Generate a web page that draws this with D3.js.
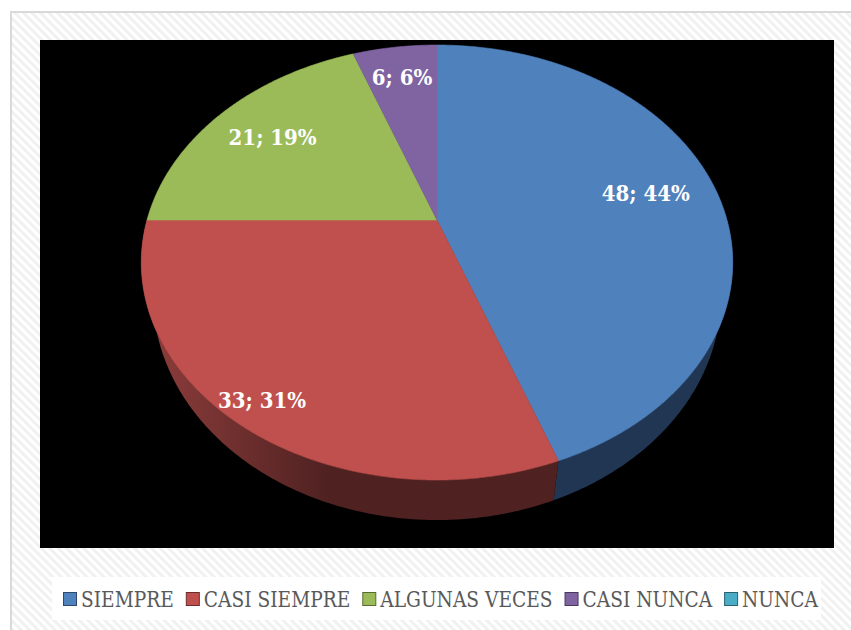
<!DOCTYPE html>
<html>
<head>
<meta charset="utf-8">
<script src="https://cdn.jsdelivr.net/npm/d3@7"></script>
<style>
  html, body { margin: 0; padding: 0; background: #ffffff; }
  svg { display: block; }
</style>
</head>
<body>
<div id="chart"></div>
<script>
// Survey answers
const categories = ["SIEMPRE", "CASI SIEMPRE", "ALGUNAS VECES", "CASI NUNCA", "NUNCA"];
const values = [48, 33, 21, 6, 0];
const topColors = ["#4f81bd", "#c0504d", "#9bbb59", "#8064a2", "#4bacc6"];
const sideColors = ["#203652", "url(#redWall)", "#3f4c24", "#342942", "#1f4651"];

const W = 851, H = 630;
const svg = d3.select("#chart").append("svg").attr("width", W).attr("height", H);
const defs = svg.append("defs");

// light diagonal texture of the chart area
const pat = defs.append("pattern")
  .attr("id", "stripes").attr("patternUnits", "userSpaceOnUse")
  .attr("width", 6).attr("height", 6)
  .attr("patternTransform", "rotate(-45)");
pat.append("rect").attr("width", 6).attr("height", 6).attr("fill", "#ffffff");
pat.append("rect").attr("width", 3).attr("height", 6).attr("fill", "#f1f1f1");

const rg = defs.append("linearGradient").attr("id", "redWall")
  .attr("gradientUnits", "userSpaceOnUse")
  .attr("x1", 150).attr("y1", 0).attr("x2", 330).attr("y2", 0);
rg.append("stop").attr("offset", 0).attr("stop-color", "#8c3d3b");
rg.append("stop").attr("offset", 1).attr("stop-color", "#4f2121");

// outer frame
svg.append("rect").attr("x", 11).attr("y", 12).attr("width", 900).attr("height", 700)
  .attr("fill", "url(#stripes)").attr("stroke", "#d9d9d9").attr("stroke-width", 2);

// plot area
svg.append("rect").attr("x", 40).attr("y", 40).attr("width", 794).attr("height", 508)
  .attr("fill", "#000000");

// perspective projection of the tilted disc
const cx = 437, cy = 220, A = 290, B = 209.2, k = 0.1954, depth = 32.2, shrink = 0.96;
function project(t, r, bottom) {
  const u = r * Math.sin(t), v = r * Math.cos(t);
  const w = 1 + k * v;
  let x = cx + A * u / w;
  let y = cy - B * v / w;
  if (bottom) {
    x = cx + (x - cx) * shrink;
    y += depth / w;
  }
  return [x, y];
}

const pie = d3.pie().sort(null).value(d => d)(values);
const total = d3.sum(values);
const line = d3.line();
const step = Math.PI / 360;

function sample(a0, a1) {
  const pts = [];
  const n = Math.max(2, Math.ceil((a1 - a0) / step));
  for (let i = 0; i <= n; i++) pts.push(a0 + (a1 - a0) * i / n);
  return pts;
}

// side walls (front half only)
const frontMin = Math.PI / 2, frontMax = Math.PI * 1.5;
const walls = svg.append("g");
pie.forEach((d, i) => {
  const a0 = Math.max(d.startAngle, frontMin), a1 = Math.min(d.endAngle, frontMax);
  if (a1 <= a0) return;
  const ts = sample(a0, a1);
  const topPts = ts.map(t => project(t, 1, false));
  const botPts = ts.slice().reverse().map(t => project(t, 1, true));
  walls.append("path")
    .attr("d", line(topPts.concat(botPts)) + "Z")
    .attr("fill", sideColors[i]);
});

// top faces
const faces = svg.append("g");
pie.forEach((d, i) => {
  if (d.endAngle - d.startAngle <= 0) return;
  const pts = [[cx, cy]].concat(sample(d.startAngle, d.endAngle).map(t => project(t, 1, false)));
  faces.append("path")
    .attr("d", line(pts) + "Z")
    .attr("fill", topColors[i])
    .attr("stroke", topColors[i]).attr("stroke-width", 0.6).attr("stroke-linejoin", "round");
});

// data labels
const labelRadius = [0.75, 0.9, 0.75, 0.8, 0.75];
const labels = svg.append("g")
  .attr("font-family", "'DejaVu Serif Condensed', 'DejaVu Serif', serif")
  .attr("font-weight", "bold").attr("font-size", 22).attr("fill", "#ffffff")
  .attr("text-anchor", "middle");
pie.forEach((d, i) => {
  if (d.value <= 0) return;
  const mid = (d.startAngle + d.endAngle) / 2;
  const [x, y] = project(mid, labelRadius[i], false);
  labels.append("text")
    .attr("x", x).attr("y", y).attr("dy", "0.36em")
    .text(`${d.value}; ${Math.round(d.value / total * 100)}%`);
});

// legend
svg.append("rect").attr("x", 52).attr("y", 577).attr("width", 769).attr("height", 43)
  .attr("fill", "#ffffff");
const legend = svg.append("g")
  .attr("font-family", "'DejaVu Serif Condensed', 'DejaVu Serif', serif")
  .attr("font-size", 22).attr("fill", "#595959");
const items = categories.map((c, i) => {
  const rect = legend.append("rect").attr("y", 592.5).attr("width", 13).attr("height", 13)
    .attr("fill", topColors[i]).attr("stroke", d3.color(topColors[i]).darker(1.6)).attr("stroke-width", 1);
  const text = legend.append("text").attr("y", 607).text(c);
  return { rect, text, w: text.node().getComputedTextLength() };
});
// narrow the legend glyphs so the row spans the legend box
const gapIn = 5, gapOut = 12, sw = 13, span = 818 - 63;
const naturalText = d3.sum(items, d => d.w);
const squeeze = (span - items.length * (sw + gapIn) - (items.length - 1) * gapOut) / naturalText;
let lx = 63;
items.forEach(d => {
  d.rect.attr("x", lx + 0.5);
  const len = d.w * squeeze;
  d.text.attr("x", lx + sw + gapIn).attr("textLength", len).attr("lengthAdjust", "spacingAndGlyphs");
  lx += sw + gapIn + len + gapOut;
});
</script>
</body>
</html>
